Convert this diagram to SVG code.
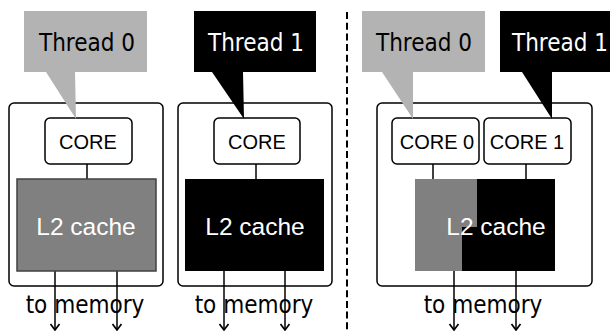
<svg xmlns="http://www.w3.org/2000/svg" width="610" height="331" viewBox="0 0 610 331">
<defs>
<style>
.outer{fill:#fff;stroke:#000;stroke-width:1.5}
.core{fill:#fff;stroke:#000;stroke-width:1.5}
.lbl{font-family:"DejaVu Sans Condensed","DejaVu Sans",Verdana,sans-serif;font-stretch:condensed;font-size:24px;text-anchor:middle}
.sans{font-family:"Liberation Sans",Arial,sans-serif;text-anchor:middle}
.cl{font-size:20px}
.l2{font-size:24.5px;fill:#fff}
.ln{stroke:#000;stroke-width:1.5;fill:none}
</style>
<marker id="ah" markerWidth="12" markerHeight="12" viewBox="0 0 12 12" refX="11" refY="6" orient="auto" markerUnits="userSpaceOnUse">
<path d="M5,1.5 L11,6 L5,10.5" fill="none" stroke="#000" stroke-width="1.7"/>
</marker>
</defs>
<rect width="610" height="331" fill="#fff"/>

<g id="system1">
<rect class="outer" x="9" y="103" width="154" height="183" rx="5"/>
</g>
<g id="system2">
<rect class="outer" x="178" y="103" width="154" height="183" rx="5"/>
</g>
<g id="system3">
<rect class="outer" x="377" y="103" width="215" height="183" rx="5"/>
</g>

<g id="connectors">
<line class="ln" x1="87" y1="164" x2="87" y2="179"/>
<line class="ln" x1="256" y1="164" x2="256" y2="179"/>
<line class="ln" x1="433" y1="164" x2="433" y2="179"/>
<line class="ln" x1="526" y1="164" x2="526" y2="179"/>
<line class="ln" x1="55" y1="271" x2="55" y2="330" marker-end="url(#ah)"/>
<line class="ln" x1="117" y1="271" x2="117" y2="330" marker-end="url(#ah)"/>
<line class="ln" x1="224" y1="271" x2="224" y2="330" marker-end="url(#ah)"/>
<line class="ln" x1="285" y1="271" x2="285" y2="330" marker-end="url(#ah)"/>
<line class="ln" x1="454" y1="271" x2="454" y2="330" marker-end="url(#ah)"/>
<line class="ln" x1="516" y1="271" x2="516" y2="330" marker-end="url(#ah)"/>
</g>

<g id="divider">
<line x1="347" y1="12" x2="347" y2="331" stroke="#000" stroke-width="2" stroke-dasharray="7,3.7"/>
</g>

<g id="core1">
<rect class="core" x="45" y="118" width="87" height="46" rx="5"/>
<text class="sans cl" x="88" y="149">CORE</text>
</g>
<g id="core2">
<rect class="core" x="214" y="118" width="86" height="46" rx="5"/>
<text class="sans cl" x="257" y="149">CORE</text>
</g>
<g id="core3a">
<rect class="core" x="392" y="118" width="87" height="46" rx="5"/>
<text class="sans cl" x="437" y="149">CORE 0</text>
</g>
<g id="core3b">
<rect class="core" x="484" y="118" width="87" height="46" rx="5"/>
<text class="sans cl" x="527" y="149">CORE 1</text>
</g>

<g id="l2a">
<rect x="17" y="179" width="139" height="92" fill="#808080" stroke="#404040" stroke-width="1.5"/>
<text class="sans l2" x="86" y="235">L2 cache</text>
</g>
<g id="l2b">
<rect x="185" y="179" width="139" height="92" fill="#000"/>
<text class="sans l2" x="255" y="235">L2 cache</text>
</g>
<g id="l2c">
<rect x="415" y="179" width="140" height="92" fill="#000"/>
<path d="M415,179 H477 V227 H462 V271 H415 Z" fill="#808080"/>
<text class="sans l2" x="496" y="235">L2 cache</text>
</g>

<g id="mem1"><text class="lbl" x="85" y="313">to memory</text></g>
<g id="mem2"><text class="lbl" x="254" y="313">to memory</text></g>
<g id="mem3"><text class="lbl" x="483" y="313">to memory</text></g>

<g id="thread0a">
<path d="M24,11 H147 V72 H75 L76,119 L46,72 H24 Z" fill="#b3b3b3"/>
<text class="lbl" x="87" y="51" fill="#000">Thread 0</text>
</g>
<g id="thread1a">
<path d="M194,11 H316 V72 H243 L244,119 L212,72 H194 Z" fill="#000"/>
<text class="lbl" x="256" y="51" fill="#fff">Thread 1</text>
</g>
<g id="thread0b">
<path d="M362,11 H485 V72 H413 L413,119 L382,72 H362 Z" fill="#b3b3b3"/>
<text class="lbl" x="424" y="51" fill="#fff" style="fill:#000">Thread 0</text>
</g>
<g id="thread1b">
<path d="M500,11 H630 V72 H552 L552,119 L522,72 H500 Z" fill="#000"/>
<text class="lbl" x="560" y="51" fill="#fff">Thread 1</text>
</g>
</svg>
